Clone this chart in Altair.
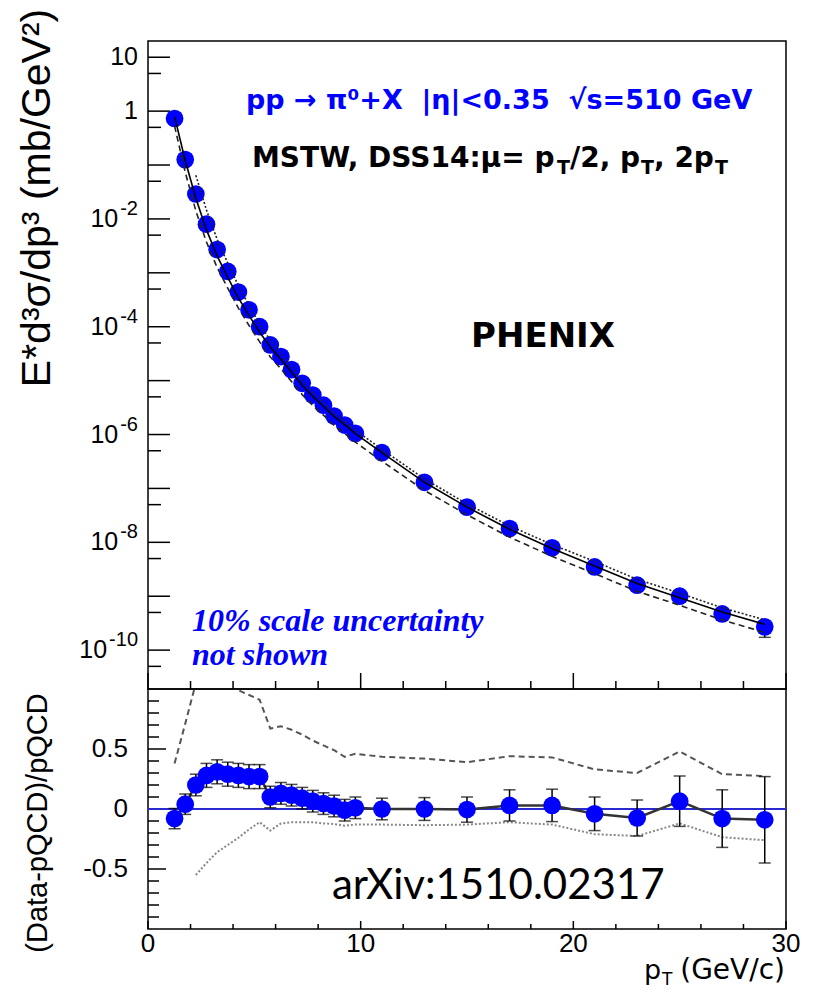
import altair as alt
import pandas as pd

# ---------------- data ----------------
pt = [1.25, 1.75, 2.25, 2.75, 3.25, 3.75, 4.25, 4.75, 5.25, 5.75, 6.25, 6.75, 7.25, 7.75,
      8.25, 8.75, 9.25, 9.75, 11, 13, 15, 17, 19, 21, 23, 25, 27, 29]
xsec = [0.73, 0.126, 0.029, 8.0e-3, 2.7e-3, 1.06e-3, 4.4e-4, 2.06e-4, 1.0e-4, 4.6e-5,
        2.8e-5, 1.6e-5, 8.9e-6, 5.4e-6, 3.5e-6, 2.2e-6, 1.5e-6, 1.05e-6, 4.6e-7, 1.3e-7,
        4.5e-8, 1.8e-8, 7.9e-9, 3.5e-9, 1.6e-9, 1.0e-9, 4.7e-10, 2.7e-10]
# pQCD mu = pT (solid)
theory_pt = [0.79, 0.121, 0.0242, 6.25e-3, 2.06e-3, 8.2e-4, 3.44e-4, 1.62e-4, 7.9e-5, 4.2e-5,
             2.48e-5, 1.43e-5, 8.2e-6, 5.1e-6, 3.35e-6, 2.15e-6, 1.52e-6, 1.04e-6, 4.6e-7,
             1.3e-7, 4.5e-8, 1.75e-8, 7.7e-9, 3.65e-9, 1.73e-9, 9.4e-10, 5.1e-10, 3.0e-10]
# pQCD mu = 2 pT (dashed)
theory_2pt = [0.53, 0.0737, 0.01415, 3.72e-3, 1.256e-3, 5.2e-4, 2.21e-4, 1.056e-4, 5.24e-5,
              2.75e-5, 1.66e-5, 9.6e-6, 5.5e-6, 3.44e-6, 2.29e-6, 1.48e-6, 1.045e-6, 7.2e-7,
              3.2e-7, 9.2e-8, 3.24e-8, 1.25e-8, 5.5e-9, 2.63e-9, 1.23e-9, 6.8e-10, 3.64e-10,
              2.12e-10]
# pQCD mu = pT/2 (dotted), from pT = 2.25
pt_half = [2.25, 2.75, 3.25, 3.75, 4.25, 4.75, 5.25, 5.75, 6.25, 6.75, 7.25, 7.75, 8.25, 8.75,
           9.25, 9.75, 11, 13, 15, 17, 19, 21, 23, 25, 27, 29]
theory_half = [0.0644, 0.01455, 4.2e-3, 1.51e-3, 5.8e-4, 2.48e-4, 1.12e-4, 5.6e-5, 3.18e-5,
               1.8e-5, 1.0e-5, 6.07e-6, 3.98e-6, 2.51e-6, 1.74e-6, 1.21e-6, 5.3e-7, 1.5e-7,
               5.17e-8, 2.02e-8, 9.1e-9, 4.43e-9, 2.06e-9, 1.14e-9, 6.1e-10, 3.65e-10]

ratio = [-0.08, 0.04, 0.20, 0.28, 0.31, 0.29, 0.28, 0.27, 0.27, 0.10, 0.13, 0.115, 0.09, 0.065,
         0.045, 0.025, -0.01, 0.01, 0.0, 0.0, -0.005, 0.03, 0.03, -0.04, -0.075, 0.065, -0.08, -0.09]
ratio_err = [0.085, 0.085, 0.09, 0.1, 0.1, 0.1, 0.1, 0.1, 0.1, 0.09, 0.09, 0.09, 0.09, 0.09,
             0.09, 0.09, 0.09, 0.09, 0.09, 0.095, 0.105, 0.13, 0.135, 0.14, 0.15, 0.21, 0.24, 0.36]
ratio_2pt = [0.38, 0.71, 1.05, 1.15, 1.15, 1.04, 0.99, 0.95, 0.91, 0.67, 0.69, 0.66, 0.62, 0.57,
             0.53, 0.49, 0.435, 0.46, 0.435, 0.42, 0.39, 0.44, 0.43, 0.33, 0.30, 0.48, 0.29, 0.275]
ratio_half = [-0.55, -0.45, -0.36, -0.30, -0.24, -0.17, -0.11, -0.18, -0.12, -0.11, -0.11, -0.11,
              -0.12, -0.125, -0.14, -0.13, -0.13, -0.135, -0.13, -0.11, -0.13, -0.21, -0.225,
              -0.12, -0.235, -0.26]

# axis ticks and labels
ytop_major = [10, 1, 0.1, 1e-2, 1e-3, 1e-4, 1e-5, 1e-6, 1e-7, 1e-8, 1e-9, 1e-10]
ytop_minor = [5, 0.5, 0.05, 5e-3, 5e-4, 5e-5, 5e-6, 5e-7, 5e-8, 5e-9, 5e-10, 5e-11]
ytop_label_vals = [10, 1, 1e-2, 1e-4, 1e-6, 1e-8, 1e-10]
ytop_label_base = ["10", "1", "10", "10", "10", "10", "10"]
ytop_label_exp = ["", "", "-2", "-4", "-6", "-8", "-10"]
ybot_major = [-0.5, 0, 0.5]
ybot_minor = [-0.9, -0.8, -0.7, -0.6, -0.4, -0.3, -0.2, -0.1, 0.1, 0.2, 0.3, 0.4, 0.6, 0.7, 0.8, 0.9]
ybot_label_vals = [-0.5, 0, 0.5]
ybot_label_text = ["-0.5", "0", "0.5"]
x_major = [0, 10, 20, 30]
x_minor = [2, 4, 6, 8, 12, 14, 16, 18, 22, 24, 26, 28]
x_label_text = ["0", "10", "20", "30"]

title_top = "E*d\u00b3\u03c3/dp\u00b3 (mb/GeV\u00b2)"
title_bot = "(Data-pQCD)/pQCD"
line_reaction = "pp \u2192 \u03c0\u2070+X \u00a0|\u03b7|<0.35 \u00a0\u221as=510 GeV"
line_mstw = ["MSTW, DSS14:\u03bc= p", "/2, p", ", 2p"]
sub_T = "T"
label_phenix = "PHENIX"
note_scale = ["10% scale uncertainty", "not shown"]
label_arxiv = "arXiv:1510.02317"
xtitle_parts = ["p", "(GeV/c)"]

# ---------------- layout ----------------
W, H1, H2 = 638, 648, 240
BLUE = "#0000ff"
SANS = "Liberation Sans"
WIDE = "DejaVu Sans"

xs = alt.Scale(domain=[0, 30], nice=False, zero=False)
ys_top = alt.Scale(type="log", domain=[1.9e-11, 20], nice=False)
ys_bot = alt.Scale(domain=[-1, 1], nice=False, zero=False)

top_df = pd.DataFrame({"pt": pt, "xsec": xsec, "tc": theory_pt, "td": theory_2pt,
                       "e": ratio_err})
top_df["lo"] = top_df["xsec"] * (1 - top_df["e"])
top_df["hi"] = top_df["xsec"] * (1 + top_df["e"])
half_df = pd.DataFrame({"pt": pt_half, "th": theory_half, "rh": ratio_half})
bot_df = pd.DataFrame({"pt": pt, "r": ratio, "e": ratio_err, "r2": ratio_2pt})
bot_df["lo"] = bot_df["r"] - bot_df["e"]
bot_df["hi"] = bot_df["r"] + bot_df["e"]
ylab_df = pd.DataFrame({"v": ytop_label_vals, "base": ytop_label_base, "exp": ytop_label_exp})

X = alt.X("pt:Q", scale=xs, axis=None)


def text_layer(s, x, y, size, align="left", font=SANS, color="black", weight="normal",
               style="normal", angle=0, baseline="alphabetic"):
    return alt.Chart(pd.DataFrame({"t": [s]})).mark_text(
        align=align, baseline=baseline, font=font, fontSize=size, color=color,
        fontWeight=weight, fontStyle=style, angle=angle
    ).encode(x=alt.value(x), y=alt.value(y), text="t:N")


def yticks(vals, scale, length, width=1.5):
    return alt.Chart(pd.DataFrame({"v": vals})).mark_rule(color="black", strokeWidth=width).encode(
        y=alt.Y("v:Q", scale=scale, axis=None), x=alt.value(0), x2=alt.value(length))


def xticks(vals, h, length, width=1.5):
    return alt.Chart(pd.DataFrame({"v": vals})).mark_rule(color="black", strokeWidth=width).encode(
        x=alt.X("v:Q", scale=xs, axis=None), y=alt.value(h), y2=alt.value(h - length))


# ---------------- top panel ----------------
anchor_top = alt.Chart(pd.DataFrame({"a": [0]})).mark_rule(color="white", strokeWidth=1).encode(
    x=alt.value(-138), y=alt.value(-31), y2=alt.value(0))

Yt = lambda f: alt.Y(f, scale=ys_top, axis=None)
EXP_SIZE = 20

top_layers = [
    anchor_top,
    yticks(ytop_major, ys_top, 22),
    yticks(ytop_minor, ys_top, 13),
    xticks(x_major, H1, 16),
    xticks(x_minor, H1, 8),
    # tick labels: base number, right aligned before its exponent
    alt.Chart(ylab_df).transform_calculate(
        px="datum.exp == '' ? -10 : -12 - (0.333 + 0.556 * (length(datum.exp) - 1)) * %d" % EXP_SIZE
    ).mark_text(align="right", baseline="middle", font=SANS, fontSize=25, color="black").encode(
        y=alt.Y("v:Q", scale=ys_top, axis=None), x=alt.X("px:Q", scale=None), text="base:N"),
    alt.Chart(ylab_df).transform_filter("datum.exp != ''").mark_text(
        align="right", baseline="middle", font=SANS, fontSize=EXP_SIZE, color="black", dy=-10
    ).encode(y=alt.Y("v:Q", scale=ys_top, axis=None), x=alt.value(-10), text="exp:N"),
    alt.Chart(top_df).mark_rule(color="black", strokeWidth=1.5).encode(
        x=X, y=Yt("lo:Q"), y2="hi:Q"),
    alt.Chart(top_df).mark_tick(orient="horizontal", color="black", size=12, thickness=1.5).encode(
        x=X, y=Yt("lo:Q")),
    alt.Chart(top_df).mark_circle(size=314, color=BLUE, opacity=1).encode(x=X, y=Yt("xsec:Q")),
    alt.Chart(top_df).mark_line(color="#222222", strokeWidth=1.6, strokeDash=[6, 4]).encode(
        x=X, y=Yt("td:Q")),
    alt.Chart(half_df).mark_line(color="#222222", strokeWidth=1.6, strokeDash=[2, 2]).encode(
        x=X, y=Yt("th:Q")),
    alt.Chart(top_df).mark_line(color="black", strokeWidth=1.6).encode(x=X, y=Yt("tc:Q")),
    text_layer(title_top, -110, 157, 41, align="center", angle=270, baseline="middle"),
    text_layer(line_reaction, 98, 68, 27, font=WIDE, color=BLUE, weight="bold"),
    text_layer(line_mstw[0], 104, 126, 28, font=WIDE, weight="bold"),
    text_layer(sub_T, 409, 133, 19, font=WIDE, weight="bold"),
    text_layer(line_mstw[1], 422, 126, 28, font=WIDE, weight="bold"),
    text_layer(sub_T, 493, 133, 19, font=WIDE, weight="bold"),
    text_layer(line_mstw[2], 506, 126, 28, font=WIDE, weight="bold"),
    text_layer(sub_T, 567, 133, 19, font=WIDE, weight="bold"),
    text_layer(label_phenix, 395, 306, 34, align="center", font=WIDE, weight="bold"),
    text_layer(note_scale[0], 44, 590, 32, font="Liberation Serif", color=BLUE, weight="bold",
               style="italic"),
    text_layer(note_scale[1], 44, 624, 32, font="Liberation Serif", color=BLUE, weight="bold",
               style="italic"),
]
top = alt.layer(*top_layers).properties(width=W, height=H1)

# ---------------- bottom panel ----------------
Yb = lambda f: alt.Y(f, scale=ys_bot, axis=None)
anchor_bot = alt.Chart(pd.DataFrame({"a": [0]})).mark_rule(color="white", strokeWidth=1).encode(
    x=alt.value(-138), y=alt.value(0), y2=alt.value(10))

bot_layers = [
    anchor_bot,
    yticks(ybot_major, ys_bot, 18),
    yticks(ybot_minor, ys_bot, 11),
    xticks(x_major, H2, 8),
    xticks(x_minor, H2, 5),
    alt.Chart(pd.DataFrame({"v": ybot_label_vals, "t": ybot_label_text})).mark_text(
        align="right", baseline="middle", font=SANS, fontSize=26, color="black").encode(
        y=alt.Y("v:Q", scale=ys_bot, axis=None), x=alt.value(-20), text="t:N"),
    alt.Chart(pd.DataFrame({"v": x_major, "t": x_label_text})).mark_text(
        align="center", baseline="alphabetic", font=SANS, fontSize=26, color="black").encode(
        x=alt.X("v:Q", scale=xs, axis=None), y=alt.value(263), text="t:N"),
    alt.Chart(bot_df).mark_line(color="#555555", strokeWidth=2, strokeDash=[6, 4], clip=True).encode(
        x=X, y=Yb("r2:Q")),
    alt.Chart(half_df).mark_line(color="#888888", strokeWidth=2, strokeDash=[2, 2], clip=True).encode(
        x=X, y=Yb("rh:Q")),
    alt.Chart(pd.DataFrame({"z": [0]})).mark_rule(color="#2a2ad0", strokeWidth=1.8).encode(
        y=Yb("z:Q"), x=alt.value(0), x2=alt.value(W)),
    alt.Chart(bot_df).mark_line(color="#333333", strokeWidth=2.5).encode(x=X, y=Yb("r:Q")),
    alt.Chart(bot_df).mark_rule(color="black", strokeWidth=1.5).encode(x=X, y=Yb("lo:Q"), y2="hi:Q"),
    alt.Chart(bot_df).mark_tick(orient="horizontal", color="black", size=12, thickness=1.5).encode(
        x=X, y=Yb("lo:Q")),
    alt.Chart(bot_df).mark_tick(orient="horizontal", color="black", size=12, thickness=1.5).encode(
        x=X, y=Yb("hi:Q")),
    alt.Chart(bot_df).mark_circle(size=314, color=BLUE, opacity=1).encode(x=X, y=Yb("r:Q")),
    text_layer(title_bot, -110, 134, 29, align="center", angle=270, baseline="middle"),
    text_layer(label_arxiv, 184, 210, 42, font="Lato"),
    text_layer(xtitle_parts[0], 496, 290, 27, font=WIDE),
    text_layer(sub_T, 514, 296, 17, font=WIDE),
    text_layer(xtitle_parts[1], 637, 290, 28, align="right", font=WIDE),
]
bottom = alt.layer(*bot_layers).properties(width=W, height=H2)

chart = alt.vconcat(top, bottom, spacing=0, bounds="flush").properties(
    padding=0, background="white"
).configure_view(stroke="black", strokeWidth=1.5)

chart.save("out.html", embed_options={"renderer": "svg", "actions": False})
